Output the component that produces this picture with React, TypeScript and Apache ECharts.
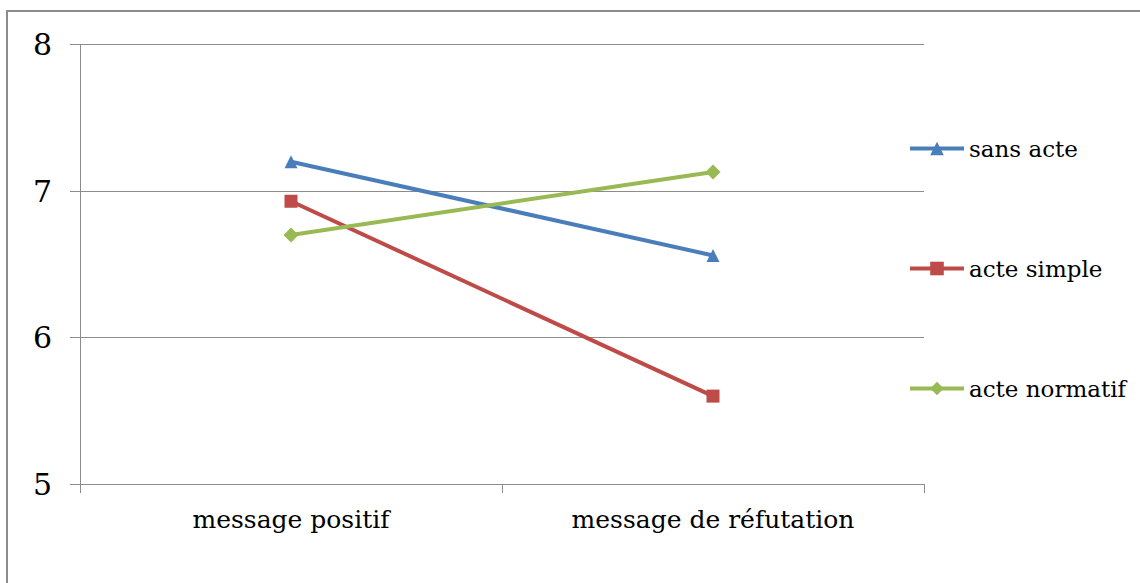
import React, { useEffect, useRef } from "react";
import * as echarts from "echarts";

const categories = ["message positif", "message de réfutation"];
const seriesNames = ["sans acte", "acte simple", "acte normatif"];
const sansActe = [7.2, 6.56];
const acteSimple = [6.93, 5.6];
const acteNormatif = [6.7, 7.13];
const yTicks = { min: 5, max: 8, interval: 1 };
const colors = ["#4A7EBB", "#BE4B48", "#98B954"];
const symbols = ["triangle", "rect", "diamond"];
const symbolSizes = [13, 13, 15];

export default function App() {
  const ref = useRef<HTMLDivElement>(null);
  useEffect(() => {
    document.body.style.margin = "0";
    if (!ref.current) return;
    const chart = echarts.init(ref.current, undefined, { renderer: "svg" });
    const font = "DejaVu Serif";
    const data = [sansActe, acteSimple, acteNormatif];
    chart.setOption({
      animation: false,
      backgroundColor: "#ffffff",
      textStyle: { fontFamily: font },
      graphic: [
        {
          type: "rect",
          shape: { x: 7, y: 11, width: 1150, height: 600 },
          style: { fill: "none", stroke: "#8c8c8c", lineWidth: 2 },
          silent: true,
        },
      ],
      grid: { left: 80, right: 216, top: 44.5, bottom: 99, containLabel: false },
      legend: {
        orient: "vertical",
        left: 908,
        top: 137,
        padding: 0,
        itemWidth: 54,
        itemHeight: 17,
        itemGap: 97,
        lineStyle: { width: 4 },
        textStyle: { fontFamily: font, fontSize: 23, color: "#000" },
        data: seriesNames,
      },
      xAxis: {
        type: "category",
        data: categories,
        boundaryGap: true,
        axisLine: { lineStyle: { color: "#8c8c8c", width: 1 } },
        axisTick: { show: true, length: 9, lineStyle: { color: "#8c8c8c" } },
        axisLabel: { fontFamily: font, fontSize: 25, color: "#000", margin: 23 },
        splitLine: { show: false },
      },
      yAxis: {
        type: "value",
        min: yTicks.min,
        max: yTicks.max,
        interval: yTicks.interval,
        axisLine: { show: true, lineStyle: { color: "#8c8c8c", width: 1 } },
        axisTick: { show: true, length: 10, lineStyle: { color: "#8c8c8c" } },
        axisLabel: { fontFamily: font, fontSize: 30, color: "#000", margin: 28 },
        splitLine: { show: true, lineStyle: { color: "#8c8c8c", width: 1 } },
      },
      series: seriesNames.map((name, i) => ({
        name,
        type: "line",
        data: data[i],
        symbol: symbols[i],
        symbolSize: symbolSizes[i],
        itemStyle: { color: colors[i] },
        lineStyle: { color: colors[i], width: 4 },
      })),
    });
    return () => chart.dispose();
  }, []);
  return <div ref={ref} style={{ width: 1140, height: 583 }} />;
}
